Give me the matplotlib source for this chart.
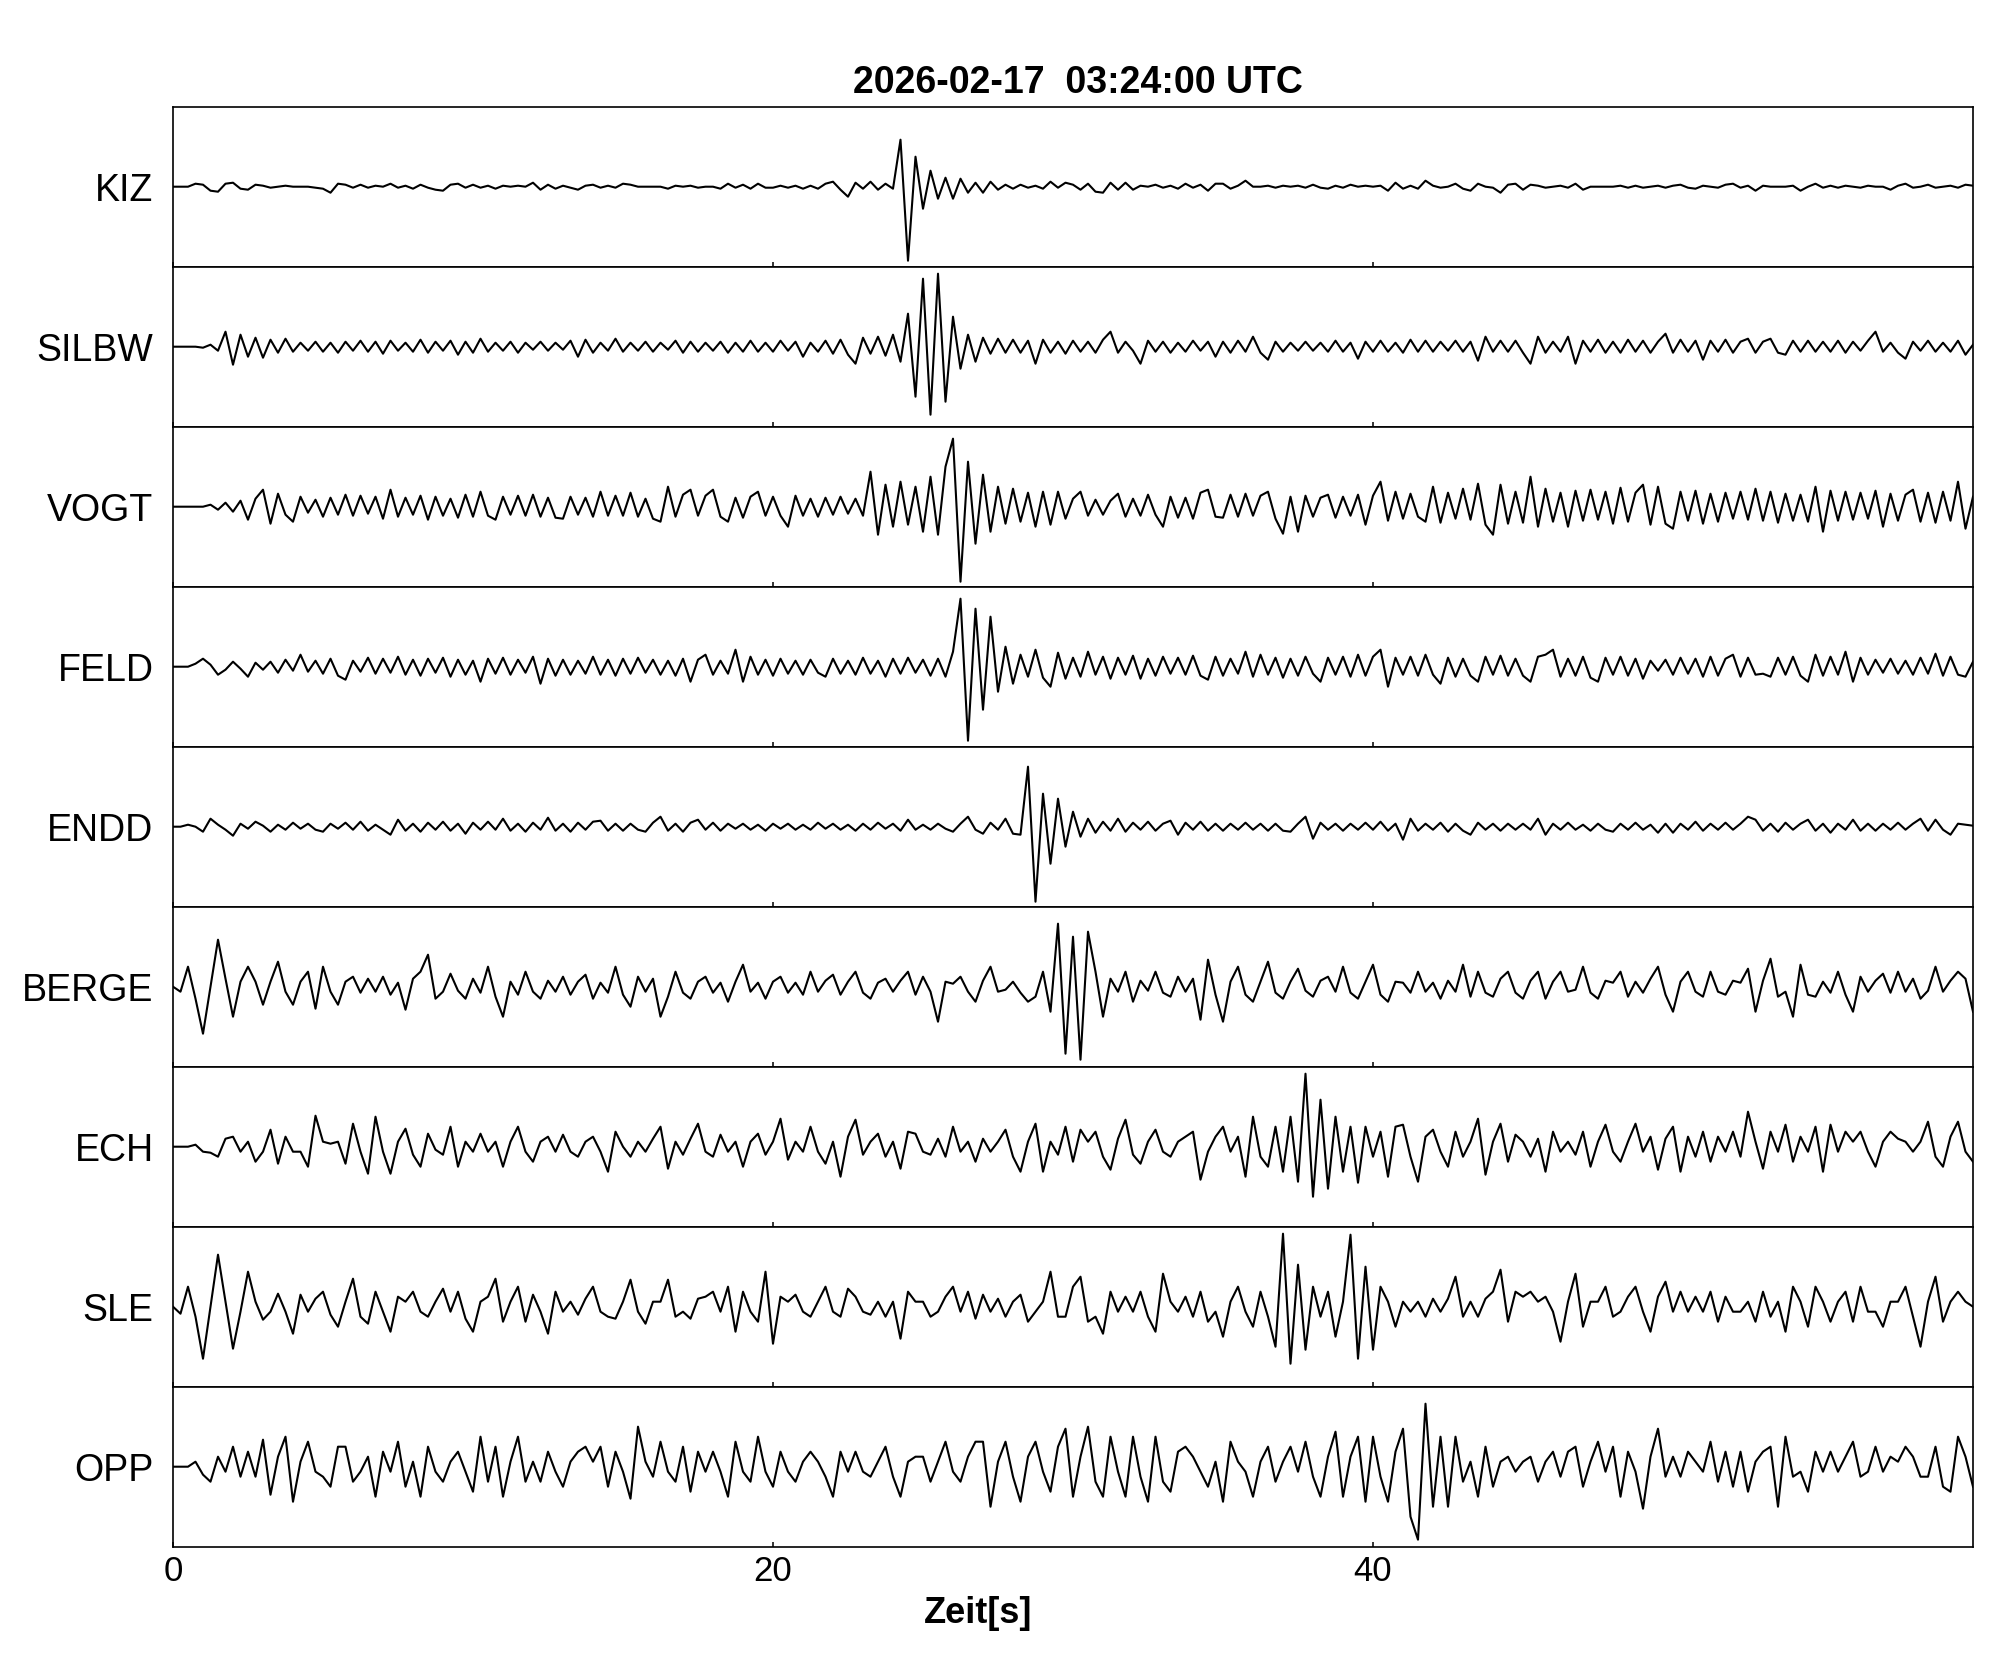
import numpy as np
import matplotlib
matplotlib.use("Agg")
import matplotlib.pyplot as plt

plt.rcParams['font.family'] = ['Liberation Sans', 'DejaVu Sans']

TITLE = '2026-02-17  03:24:00 UTC'
XLABEL = 'Zeit[s]'
STATIONS = ['KIZ', 'SILBW', 'VOGT', 'FELD', 'ENDD', 'BERGE', 'ECH', 'SLE', 'OPP']
XTICKS = [0, 20, 40]
DT = 0.25  # sample spacing of the traces, s

# trace amplitudes, one value every DT seconds
KIZ = [0, 0, 0, 3, 2, -4, -5, 3, 4, -2, -3, 2, 1, -1, 0, 1, 0, 0, 0, -1,
       -2, -6, 3, 2, -1, 2, -1, 1, 0, 3, -1, 1, -2, 2, -1, -3, -4, 2, 3, -1,
       2, -1, 1, -2, 1, 0, 1, 0, 4, -3, 2, -2, 1, -1, -3, 1, 2, -1, 1, -1,
       3, 2, 0, 0, 0, 0, -2, 1, 0, 1, -1, 0, 0, -2, 3, -1, 2, -2, 3, -1,
       -1, 1, -1, 1, -2, 1, -2, 3, 5, -3, -10, 4, -2, 5, -3, 3, -2, 47, -74, 30,
       -22, 16, -12, 9, -12, 8, -6, 4, -6, 5, -3, 2, -2, 2, -1, 1, -2, 5, -1, 4,
       2, -3, 3, -5, -6, 4, -3, 4, -3, 1, 0, 2, -1, 1, -2, 3, -1, 2, -4, 3,
       3, -2, 1, 6, 0, 0, 1, -1, 1, 0, 1, -1, 2, -1, -2, 1, -1, 2, 0, 1,
       0, 1, -4, 4, -2, 1, -2, 6, 1, -1, 0, 3, -2, -4, 3, 0, -1, -6, 2, 3,
       -3, 2, 1, -1, 0, 1, -1, 3, -3, 0, 0, 0, 0, 1, -1, 1, -1, 0, 1, -1,
       1, 2, -1, -2, 1, 0, -1, 2, 3, -1, 1, -4, 1, 0, 0, 0, 1, -4, 0, 3,
       -1, 1, -1, 1, 0, -1, 1, 0, 0, -3, 1, 3, -1, 0, 2, -1, 0, 1, -1, 2,
       1]

SILBW = [0, 0, 0, 0, -1, 2, -4, 15, -18, 12, -10, 9, -11, 7, -6, 8, -5, 4, -4, 5,
         -5, 4, -6, 5, -4, 6, -5, 5, -7, 6, -4, 4, -5, 7, -6, 5, -4, 6, -8, 5,
         -6, 8, -5, 4, -4, 5, -6, 4, -3, 5, -4, 4, -3, 6, -10, 7, -6, 4, -4, 8,
         -5, 4, -4, 5, -5, 4, -3, 6, -6, 5, -5, 4, -4, 5, -6, 4, -5, 6, -5, 4,
         -5, 6, -4, 5, -10, 4, -5, 6, -7, 7, -8, -17, 9, -7, 10, -9, 12, -15, 33, -50,
         68, -68, 73, -55, 30, -22, 12, -15, 9, -7, 8, -6, 7, -6, 6, -17, 7, -6, 5, -7,
         6, -5, 5, -6, 7, 15, -6, 5, -4, -17, 6, -5, 5, -6, 4, -5, 6, -4, 5, -10,
         5, -6, 6, -5, 10, -6, -13, 5, -5, 4, -4, 5, -4, 4, -5, 6, -5, 4, -12, 5,
         -5, 6, -5, 4, -6, 7, -5, 6, -5, 5, -4, 6, -5, 5, -14, 10, -5, 6, -5, 6,
         -6, -17, 10, -6, 5, -5, 10, -17, 6, -5, 7, -6, 5, -6, 7, -5, 6, -6, 5, 13,
         -6, 7, -5, 6, -13, 6, -5, 7, -6, 5, 8, -6, 5, 8, -6, -8, 6, -5, 6, -5,
         5, -5, 6, -6, 5, -4, 6, 15, -5, 4, -6, -12, 5, -4, 6, -5, 4, -5, 6, -8,
         2]

VOGT = [0, 0, 0, 0, 0, 2, -3, 4, -5, 6, -13, 8, 17, -17, 13, -8, -15, 10, -6, 7,
        -10, 9, -8, 12, -9, 11, -7, 10, -12, 17, -10, 9, -8, 11, -13, 10, -9, 8, -11, 12,
        -10, 15, -9, -13, 10, -8, 11, -9, 12, -10, 9, -11, -12, 10, -8, 9, -10, 15, -9, 11,
        -9, 14, -10, 8, -12, -15, 20, -10, 12, 17, -9, 11, 17, -10, -15, 9, -11, 10, 15, -9,
        10, -9, -20, 11, -9, 8, -10, 9, -8, 10, -7, 8, -9, 35, -28, 22, -20, 25, -18, 20,
        -25, 30, -28, 40, 68, -75, 45, -37, 32, -25, 20, -17, 18, -15, 14, -20, 15, -18, 15, -12,
        8, 15, -9, 7, -8, 6, 13, -10, 8, -9, 12, -8, -20, 10, -11, 9, -12, 14, 17, -10,
        -11, 12, -10, 13, -9, 11, 15, -12, -27, 10, -25, 11, -10, 9, 12, -11, 10, -9, 12, -18,
        11, 25, -14, 15, -12, 13, -10, -15, 20, -16, 14, -12, 18, -13, 23, -18, -28, 22, -17, 15,
        -16, 30, -20, 18, -15, 14, -20, 16, -14, 17, -13, 15, -17, 19, -15, 14, 22, -18, 20, -17,
        -22, 15, -14, 16, -17, 13, -15, 14, -12, 15, -13, 18, -14, 15, -16, 13, -14, 12, -15, 20,
        -25, 16, -14, 15, -13, 14, -12, 16, -20, 13, -14, 12, 17, -15, 14, -16, 15, -14, 25, -22,
        10]

FELD = [0, 0, 0, 3, 8, 2, -8, -3, 5, -2, -10, 4, -3, 5, -6, 7, -4, 12, -5, 6,
        -7, 8, -9, -13, 6, -5, 9, -7, 8, -6, 10, -8, 7, -9, 8, -6, 9, -10, 7, -8,
        6, -15, 8, -7, 9, -8, 7, -6, 10, -17, 8, -9, 7, -8, 6, -7, 10, -8, 7, -9,
        8, -7, 9, -6, 7, -8, 6, -9, 8, -15, 7, 12, -8, 6, -7, 17, -15, 10, -8, 7,
        -9, 8, -7, 6, -8, 7, -6, -10, 8, -7, 6, -8, 9, -7, 6, -10, 8, -7, 9, -6,
        7, -9, 8, -10, 15, 68, -74, 58, -43, 50, -25, 20, -17, 12, -10, 17, -11, -20, 14, -12,
        9, -10, 15, -8, 10, -12, 9, -8, 11, -12, 8, -9, 10, -7, 9, -8, 11, -9, -13, 10,
        -9, 8, -7, 15, -10, 12, -8, 9, -11, 8, -9, 10, -7, -15, 9, -8, 10, -10, 12, -9,
        10, 17, -20, 9, -8, 10, -9, 12, -8, -17, 9, -10, 8, -9, -15, 10, -8, 11, -9, 8,
        -9, -15, 10, 12, 17, -10, 8, -9, 10, -11, -15, 9, -8, 10, -9, 8, -12, 6, -4, 7,
        -8, 9, -7, 8, -10, 10, -9, 8, 12, -10, 9, -8, -7, -10, 9, -8, 10, -9, -15, 12,
        -9, 10, -8, 15, -15, 9, -8, 7, -6, 8, -7, 6, -8, 9, -7, 13, -9, 10, -8, -10,
        5]

ENDD = [0, 0, 2, 0, -5, 8, 2, -3, -9, 3, -2, 5, 1, -5, 2, -3, 4, -2, 3, -3,
        -5, 3, -2, 4, -3, 5, -4, 2, -3, -8, 7, -4, 3, -5, 4, -3, 5, -4, 3, -7,
        4, -3, 5, -3, 8, -4, 3, -5, 4, -3, 9, -4, 3, -5, 4, -3, 5, 6, -4, 3,
        -4, 3, -3, -5, 4, 10, -4, 3, -5, 4, 7, -3, 4, -4, 3, -2, 3, -3, 2, -4,
        3, -2, 3, -3, 2, -3, 4, -2, 3, -3, 2, -4, 3, -3, 4, -2, 3, -4, 7, -3,
        2, -3, 3, -2, -5, 3, 10, -3, -7, 4, -3, 8, -7, -8, 60, -75, 33, -37, 28, -20,
        15, -10, 8, -6, 5, -4, 8, -5, 4, -3, 5, -4, 3, 6, -8, 4, -3, 5, -4, 3,
        -4, 3, -3, 4, -3, 3, -4, 3, -4, -5, 3, 10, -12, 4, -3, 3, -4, 3, -3, 4,
        -3, 5, -4, 3, -13, 8, -4, 3, -3, 4, -5, 3, -4, -8, 4, -3, 3, -4, 3, -3,
        3, -3, 8, -8, 3, -3, 4, -3, 2, -4, 3, -3, -5, 3, -3, 4, -3, 2, -6, 3,
        -6, 3, -3, 5, -4, 3, -3, 4, -3, 3, 10, 7, -4, 3, -5, 4, -3, 3, 7, -4,
        3, -6, 3, -3, 7, -4, 3, -4, 3, -3, 4, -3, 3, 8, -4, 7, -3, -8, 3, 2,
        1]

BERGE = [0, -5, 20, -12, -47, 0, 47, 8, -30, 5, 20, 5, -18, 5, 25, -5, -18, 5, 15, -22,
         20, -5, -18, 5, 10, -6, 8, -5, 10, -8, 4, -23, 8, 15, 32, -12, -5, 13, -4, -12,
         8, -6, 20, -10, -30, 5, -8, 15, -5, -12, 6, -5, 10, -8, 5, 12, -12, 4, -6, 20,
         -8, -20, 10, -5, 8, -30, -10, 15, -6, -12, 5, 10, -6, 4, -15, 5, 22, -5, 4, -12,
         5, 10, -6, 4, -8, 15, -5, 6, 12, -8, 5, 15, -6, -12, 4, 8, -5, 6, 15, -8,
         10, -5, -35, 5, 3, 10, -5, -15, 6, 20, -5, -3, 5, -6, -15, -10, 15, -25, 63, -67,
         50, -73, 55, 15, -30, 8, -5, 15, -15, 6, -4, 15, -6, -10, 10, -5, 8, -33, 27, -8,
         -35, 5, 20, -8, -15, 5, 25, -6, -12, 5, 18, -4, -10, 6, 10, -5, 20, -6, -12, 5,
         22, -8, -15, 5, 4, -6, 15, -5, 4, -12, 6, -5, 22, -10, 15, -6, -10, 8, 15, -6,
         -12, 6, 15, -12, 5, 15, -5, -3, 20, -6, -12, 6, 4, 15, -10, 5, -6, 8, 20, -8,
         -25, 5, 15, -5, -10, 15, -5, -8, 6, 4, 18, -25, 6, 28, -10, -5, -30, 22, -8, -10,
         5, -6, 15, -8, -25, 10, -5, 6, 13, -6, 15, -5, 8, -12, -4, 20, -5, 6, 15, 8,
         -25]

ECH = [0, 0, 0, 2, -5, -6, -10, 8, 10, -5, 5, -15, -5, 17, -17, 10, -5, -5, -20, 31,
       5, 3, 5, -17, 23, -5, -27, 30, -5, -27, 5, 18, -8, -20, 13, -3, -8, 20, -20, 5,
       -5, 13, -5, 5, -20, 5, 20, -5, -15, 5, 10, -5, 12, -5, -10, 5, 10, -5, -25, 15,
       0, -10, 5, -5, 8, 20, -22, 5, -8, 8, 23, -5, -10, 12, -5, 5, -20, 5, 13, -8,
       5, 28, -13, 5, -5, 20, -5, -17, 5, -30, 10, 27, -8, 5, 13, -10, 5, -22, 15, 13,
       -5, -8, 8, -10, 20, -5, 5, -15, 8, -5, 5, 17, -10, -25, 5, 23, -25, 5, -8, 20,
       -15, 17, 5, 15, -10, -23, 8, 27, -8, -17, 5, 17, -5, -10, 5, 10, 15, -33, -5, 10,
       20, -5, 10, -30, 30, -10, -20, 20, -25, 30, -35, 73, -50, 47, -42, 30, -25, 20, -36, 20,
       -10, 15, -30, 20, 22, -10, -35, 10, 17, -5, -20, 15, -10, 5, 28, -28, 5, 23, -15, 12,
       5, -10, 8, -25, 15, -5, 5, -8, 15, -20, 5, 22, -5, -15, 5, 23, -5, 10, -23, 8,
       20, -25, 10, -10, 15, -15, 10, -5, 15, -10, 35, 5, -22, 15, -5, 22, -15, 10, -5, 20,
       -25, 22, -5, 15, 5, 15, -5, -20, 5, 15, 8, 5, -5, 5, 25, -10, -20, 10, 25, -5,
       -15]

SLE = [0, -7, 20, -10, -52, 0, 52, 5, -42, -5, 35, 5, -13, -5, 13, -5, -27, 12, -5, 8,
       15, -8, -20, 5, 28, -10, -17, 15, -5, -25, 10, 5, 15, -5, -10, 5, 18, -5, 15, -12,
       -25, 5, 10, 28, -15, 5, 20, -15, 12, -5, -27, 15, -5, 5, -8, 8, 20, -5, -10, -12,
       5, 27, -5, -17, 5, 5, 27, -10, -5, -12, 8, 10, 15, -5, 20, -25, 15, -5, -15, 35,
       -37, 10, 5, 12, -5, -10, 5, 20, -5, -10, 18, 10, -5, -8, 5, -10, 5, -32, 15, 5,
       5, -10, -5, 10, 20, -5, 15, -12, 12, -5, 8, -10, 5, 12, -15, -5, 5, 35, -10, -10,
       20, 30, -15, -10, -27, 15, -5, 10, -5, 15, -10, -25, 33, 5, -5, 10, -10, 15, -15, -5,
       -30, 5, 20, -5, -20, 15, -10, -40, 73, -57, 42, -43, 20, -10, 15, -30, 5, 72, -52, 40,
       -43, 20, 5, -20, 5, -5, 5, -10, 8, -5, 8, 30, -10, 5, -10, 8, 15, 37, -15, 15,
       10, 15, 5, 10, -5, -35, 5, 33, -20, 5, 5, 20, -10, -5, 10, 20, -5, -25, 10, 25,
       -5, 15, -5, 10, -5, 15, -15, 10, -5, -5, 5, -15, 15, -10, 5, -25, 20, 5, -20, 20,
       5, -15, 5, 15, -15, 20, -5, -5, -20, 5, 5, 20, -10, -40, 5, 30, -15, 5, 15, 5,
       0]

OPP = [0, 0, 0, 5, -8, -15, 10, -5, 20, -10, 15, -10, 27, -28, 10, 30, -35, 5, 25, -5,
       -10, -20, 20, 20, -15, -5, 10, -30, 15, -5, 25, -20, 5, -30, 20, -5, -15, 5, 15, -5,
       -25, 30, -15, 20, -30, 5, 30, -15, 5, -15, 15, -5, -20, 5, 15, 20, 5, 20, -20, 15,
       -5, -32, 40, 5, -10, 25, -5, -15, 20, -25, 15, -5, 15, -5, -30, 25, -5, -15, 30, -5,
       -20, 15, -5, -15, 5, 15, 5, -10, -30, 15, -5, 15, -5, -10, 5, 20, -10, -30, 5, 10,
       10, -15, 5, 25, -5, -15, 10, 25, 25, -40, 5, 25, -10, -35, 10, 25, -5, -25, 20, 38,
       -30, 10, 40, -15, -30, 30, -5, -30, 30, -10, -35, 30, -15, -25, 15, 20, 10, -5, -20, 5,
       -35, 25, 5, -5, -30, 5, 20, -15, 5, 20, -5, 25, -10, -30, 10, 35, -30, 10, 30, -35,
       30, -10, -35, 15, 38, -50, -73, 63, -40, 30, -40, 30, -15, 5, -30, 20, -20, 5, 10, -5,
       5, 10, -15, 5, 15, -10, 15, 20, -20, 5, 25, -5, 20, -30, 15, -5, -42, 10, 38, -10,
       10, -10, 15, 5, -5, 25, -15, 15, -20, 15, -25, 5, 15, 20, -40, 30, -10, -5, -25, 15,
       -5, 15, -5, 10, 25, -10, -5, 20, -5, 10, 5, 20, 10, -10, -10, 20, -20, -25, 30, 10,
       -20]

TRACES = [KIZ, SILBW, VOGT, FELD, ENDD, BERGE, ECH, SLE, OPP]

fig = plt.figure(figsize=(20.05, 16.8), dpi=100)

left = 173 / 2005
width = 1800 / 2005
top = 1 - 106.7 / 1680
height = 160 / 1680

n = len(STATIONS)
for i, (name, trace) in enumerate(zip(STATIONS, TRACES)):
    ax = fig.add_axes([left, top - (i + 1) * height, width, height])
    t = np.arange(len(trace)) * DT
    ax.plot(t, trace, color='black', lw=1.5)
    ax.set_xlim(0, 60)
    ax.set_ylim(-80, 80)
    ax.set_yticks([0])
    ax.set_yticklabels([name])
    ax.tick_params(axis='y', length=0, pad=14, labelsize=27)
    ax.set_xticks(XTICKS)
    ax.tick_params(axis='x', direction='in', length=3.6, width=1.1,
                   labelsize=25, pad=6, labelbottom=(i == n - 1))
    for s in ax.spines.values():
        s.set_linewidth(1.2)
    if i == n - 1:
        ax.set_xlabel(XLABEL, fontsize=26, fontweight='bold')
        ax.xaxis.set_label_coords(0.447, -0.31)

fig.text(0.5375, 1 - 93 / 1680, TITLE, ha='center', va='baseline',
         fontsize=27, fontweight='bold')

fig.savefig('out.png', dpi=100)
